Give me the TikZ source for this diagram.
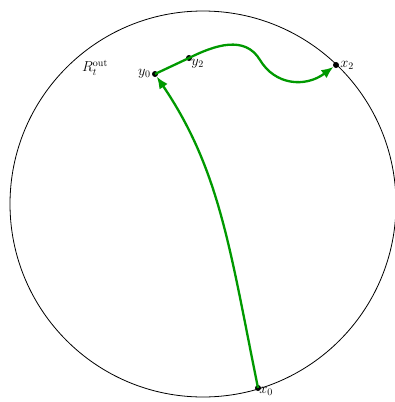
\documentclass[tikz,border=0pt]{standalone}
\usetikzlibrary{arrows.meta}
\begin{document}
\begin{tikzpicture}[x=1pt,y=-1pt,
  every node/.style={font=\Large},
  dot/.style={circle,fill=black,inner sep=0pt,minimum size=6pt},
  lbl/.style={inner sep=1pt},
  gpath/.style={draw=green!60!black,line width=2.3pt,-{Latex[length=12pt,width=10pt]}}]
\useasboundingbox (0,0) rectangle (395,402);
\node[circle,draw,line width=0.8pt,minimum size=386pt,inner sep=0pt] (C) at (203,204) {};
\node[dot] (x0) at (258,388) {};
\node[dot] (y0) at (155,74) {};
\node[dot] (y2) at (189,58) {};
\node[dot] (x2) at (336,65) {};
\node[lbl,anchor=north west] at ([xshift=-2pt,yshift=4pt]x0.south east) {$x_0$};
\node[lbl,anchor=east] at (y0.west) {$y_0$};
\node[lbl,anchor=north west] at ([xshift=-1pt,yshift=2pt]y2.south east) {$y_2$};
\node[lbl,anchor=west] at (x2.east) {$x_2$};
\node (R) at (95,68) {$R_t^{\mathrm{out}}$};
\draw[gpath] (x0.center) .. controls (230,250) and (220,170) .. (y0);
\draw[gpath] (y0.center) -- (y2.center) .. controls (215,45) and (245,35) .. (260,60) .. controls (275,85) and (305,88) .. (x2);
\end{tikzpicture}
\end{document}
